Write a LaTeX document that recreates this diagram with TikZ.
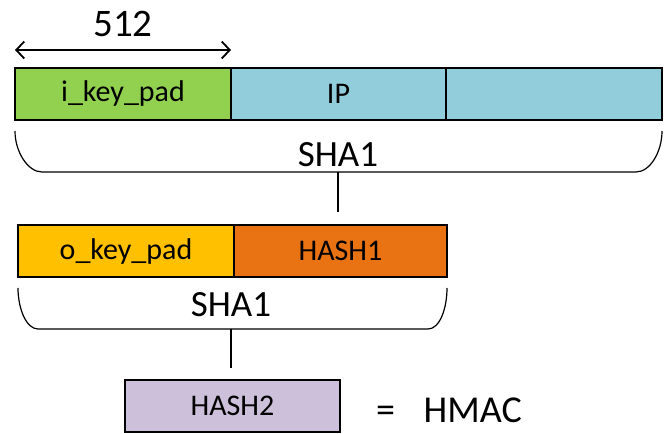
\documentclass[tikz,border=0pt]{standalone}
\usepackage{fontspec}
\setmainfont{Carlito}
\usetikzlibrary{arrows.meta}
\usetikzlibrary{positioning}
\tikzset{block/.style = {draw, line width=1.3pt, outer sep=0pt, inner sep=0pt,
                         minimum height=52pt, font=\fontsize{30}{34}\selectfont},
         brace/.style = {line width=1.2pt},
         big/.style = {font=\fontsize{37}{42}\selectfont, inner sep=0pt}}
\definecolor{kgreen}{HTML}{92D050}
\definecolor{ipblue}{HTML}{92CDDC}
\definecolor{kyellow}{HTML}{FFC000}
\definecolor{horange}{HTML}{E97312}
\definecolor{hlilac}{HTML}{CCC0DA}

\begin{document}
\begin{tikzpicture}[x=1pt, y=-1pt]
    \useasboundingbox (0, 0) rectangle (670, 434);

    \begin{scope}
      \node [block, fill=kgreen, minimum width=216pt, anchor=north west] (ikey) at (15, 68) {i\_key\_pad};
      \node [block, fill=ipblue, minimum width=215pt, right=0pt of ikey] (ip) {IP};
      \node [block, fill=ipblue, minimum width=216pt, right=0pt of ip] (rest) {};
      \coordinate (dimL) at ([yshift=18pt]ikey.north west);
      \coordinate (dimR) at ([yshift=18pt]ikey.north east);
      \draw [line width=1.8pt, {Straight Barb[length=8pt, width=17pt]}-{Straight Barb[length=8pt, width=17pt]}] (dimL) -- (dimR);
      \node [big, font=\fontsize{39}{44}\selectfont] (len) at (123, 24) {512};
      \draw [brace] (15, 131) .. controls (15, 152) and (28, 172) .. (42, 172) -- (636, 172)
                    .. controls (650, 172) and (662, 152) .. (662, 131);
      \node [big] (shaa) at (338, 155) {SHA1};
      \coordinate (shaaout) at (338, 172);
      \coordinate (shaaend) at (338, 212);
      \draw [line width=1.3pt] (shaaout) -- (shaaend);
    \end{scope}

    \begin{scope}
      \node [block, fill=kyellow, minimum width=216pt, anchor=north west] (okey) at (18, 225) {o\_key\_pad};
      \node [block, fill=horange, minimum width=213pt, right=0pt of okey] (hashone) {HASH1};
      \draw [brace] (18, 288) .. controls (18, 308) and (26, 329) .. (38, 329) -- (428, 329)
                    .. controls (440, 329) and (447, 308) .. (447, 288);
      \node [big] (shab) at (231, 305) {SHA1};
      \coordinate (shabout) at (231, 329);
      \coordinate (shabend) at (231, 368);
      \draw [line width=1.3pt] (shabout) -- (shabend);
    \end{scope}

    \begin{scope}
      \node [block, fill=hlilac, minimum width=215pt, anchor=north west] (hashtwo) at (125, 380) {HASH2};
      \node [big, font=\fontsize{38}{43}\selectfont, anchor=west] (hmac) at (376, 410) {=\hspace{0.75em}HMAC};
    \end{scope}
  \end{tikzpicture}
\end{document}
